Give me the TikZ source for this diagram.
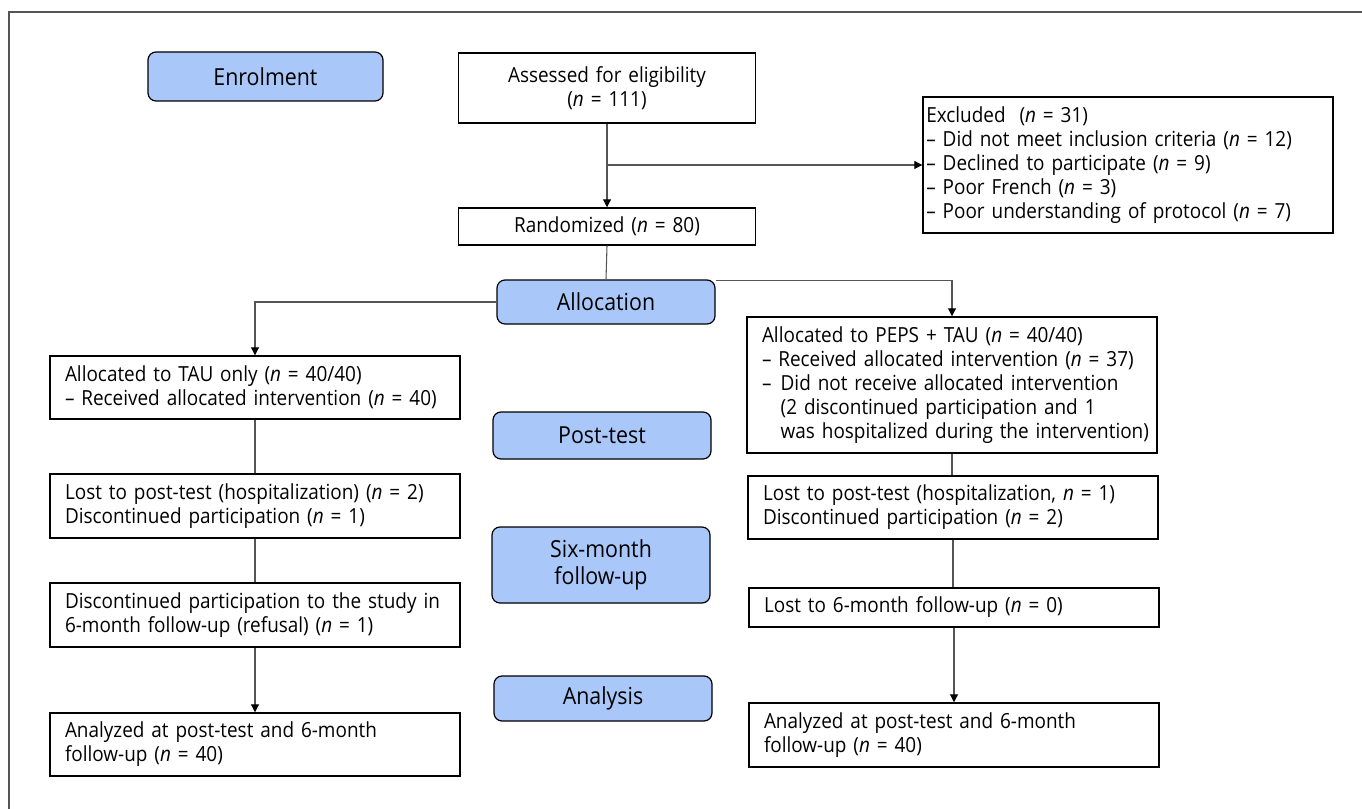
\documentclass[tikz,border=0pt]{standalone}
\usepackage{fontspec}
\setmainfont[FakeStretch=0.91]{Open Sans}
\usetikzlibrary{arrows.meta}
\usetikzlibrary{positioning}

\definecolor{phaseblue}{RGB}{170,199,250}
\definecolor{linegray}{RGB}{85,85,85}
\newcommand{\nsym}{\textit{n}}

\tikzset{
  stage/.style={draw=black, line width=0.9pt, rounded corners=6pt, fill=phaseblue,
    font=\fontsize{17.6}{20}\selectfont, align=center, minimum width=163.5pt, inner sep=0pt},
  flowbox/.style={draw=black, line width=1.1pt, font=\fontsize{15.6}{18}\selectfont,
    align=left, inner xsep=11.25pt, inner ysep=0pt, text width=285pt},
  link/.style={draw=linegray, line width=0.8pt},
  arrowlink/.style={link, -{Triangle[length=6pt,width=6pt,color=black]}}
}

\begin{document}
\begin{tikzpicture}[x=0.75pt, y=-0.75pt]
\useasboundingbox (0,0) rectangle (1362,809);

% frame
\draw[linegray, line width=1pt] (9,809) -- (9,12) -- (1362,12);

% phase labels
\node[stage, minimum width=176.25pt, minimum height=36.75pt] at (265.5,76.5) (enrol) {Enrolment};
\node[stage, minimum height=33pt] at (606,302) (alloc) {Allocation};
\node[stage, minimum height=35.25pt] at (602,435.5) (post) {Post-test};
\node[stage, minimum height=57pt] at (601,565) (six) {Six-month\\follow-up};
\node[stage, minimum height=33.75pt] at (603,698.5) (analysis) {Analysis};

% enrolment
\node[flowbox, align=center, text width=200pt, minimum width=222.75pt, minimum height=52.5pt]
  at (607,88) (assess) {Assessed for eligibility\\(\nsym{} = 111)};
\node[flowbox, align=center, text width=200pt, minimum width=222.75pt, minimum height=27.75pt]
  at (607,226.5) (random) {Randomized (\nsym{} = 80)};
\node[flowbox, inner xsep=2.5pt, text width=302.5pt, minimum height=102pt] at (1128,165) (excl)
  {Excluded\ \ (\nsym{} = 31)\\
   – Did not meet inclusion criteria (\nsym{} = 12)\\
   – Declined to participate (\nsym{} = 9)\\
   – Poor French (\nsym{} = 3)\\
   \mbox{– Poor understanding of protocol (\nsym{} = 7)}};

% TAU arm
\node[flowbox, minimum height=47.25pt] at (255,387.5) (tau)
  {Allocated to TAU only (\nsym{} = 40/40)\\
   \mbox{– Received allocated intervention (\nsym{} = 40)}};
\node[flowbox, minimum height=48pt] at (255,506) (lostL)
  {\mbox{Lost to post-test (hospitalization) (\nsym{} = 2)}\\
   Discontinued participation (\nsym{} = 1)};
\node[flowbox, minimum height=48pt] at (255,615) (discL)
  {\mbox{Discontinued participation to the study in}\\
   \mbox{6-month follow-up (refusal) (\nsym{} = 1)}};
\node[flowbox, minimum height=47.25pt] at (255,744.5) (analL)
  {Analyzed at post-test and 6-month\\
   follow-up (\nsym{} = 40)};

% PEPS arm
\node[flowbox, minimum height=102pt] at (952,385) (peps)
  {Allocated to PEPS + TAU (\nsym{} = 40/40)\\
   \mbox{– Received allocated intervention (\nsym{} = 37)}\\
   \mbox{\makebox[14pt][l]{–}Did not receive allocated intervention}\\
   \mbox{\hspace*{14pt}(2 discontinued participation and 1}\\
   \mbox{\hspace*{14pt}was hospitalized during the intervention)}};
\node[flowbox, minimum height=47.25pt] at (953,507.5) (lostR)
  {\mbox{Lost to post-test (hospitalization, \nsym{} = 1)}\\
   Discontinued participation (\nsym{} = 2)};
\node[flowbox, minimum height=29.25pt] at (954,607.5) (lost6)
  {Lost to 6-month follow-up (\nsym{} = 0)};
\node[flowbox, minimum height=48pt] at (954,735) (analR)
  {Analyzed at post-test and 6-month\\
   follow-up (\nsym{} = 40)};

% connectors
\draw[arrowlink] (assess.south) -- (random.north);
\draw[arrowlink] (assess.south |- excl.west) -- (excl.west);
\draw[link] (random.south) -- (alloc.north);
\draw[arrowlink] (alloc.west) -| (tau.north);
\draw[arrowlink] ([yshift=-1pt]alloc.north east) -| (peps.north);

\draw[link] (tau.south) -- (lostL.north);
\draw[link] (lostL.south) -- (discL.north);
\draw[arrowlink] (discL.south) -- (analL.north);

\draw[link] (peps.south) -- (peps.south |- lostR.north);
\draw[link] (lostR.south) -- (lostR.south |- lost6.north);
\draw[arrowlink] (lost6.south) -- (lost6.south |- analR.north);
\end{tikzpicture}
\end{document}
